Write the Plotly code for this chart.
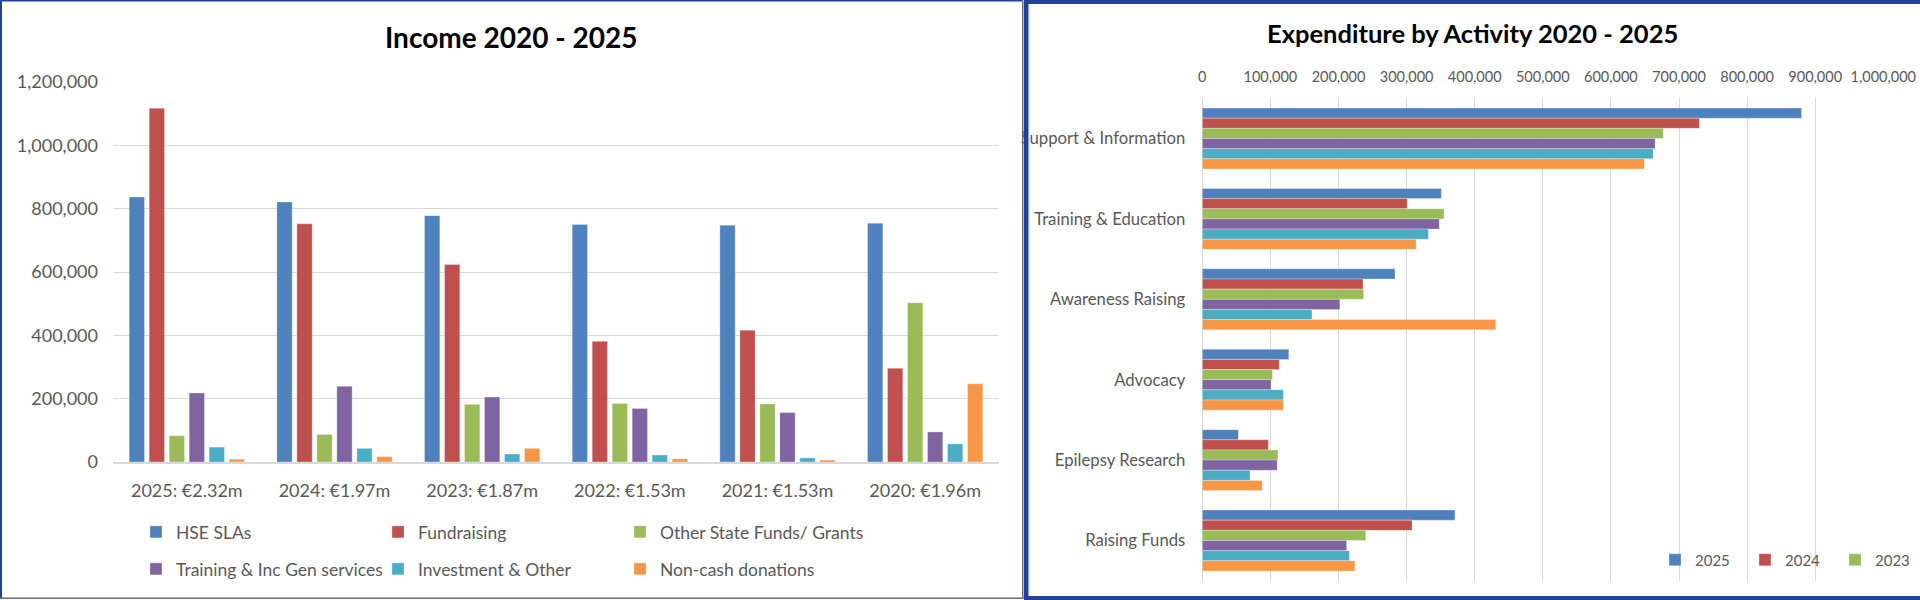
import plotly.graph_objects as go

# ---------------- Data ----------------
income_years = ["2025: €2.32m", "2024: €1.97m", "2023: €1.87m",
                "2022: €1.53m", "2021: €1.53m", "2020: €1.96m"]
income_series_names = ["HSE SLAs", "Fundraising", "Other State Funds/ Grants",
                       "Training & Inc Gen services", "Investment & Other", "Non-cash donations"]
hse_slas = [837000, 821000, 778000, 750000, 748000, 754000]
fundraising = [1117000, 752000, 624000, 381000, 416000, 296000]
other_state = [83000, 87000, 182000, 185000, 183000, 503000]
training_gen = [218000, 239000, 205000, 169000, 156000, 95000]
investment_other = [47000, 43000, 25000, 22000, 13000, 57000]
non_cash = [9000, 17000, 43000, 10000, 6000, 247000]
income_values = [hse_slas, fundraising, other_state, training_gen, investment_other, non_cash]

activities = ["Support & Information", "Training & Education", "Awareness Raising",
              "Advocacy", "Epilepsy Research", "Raising Funds"]
exp_years = ["2025", "2024", "2023", "2022", "2021", "2020"]
exp_2025 = [880000, 351000, 283000, 127000, 53000, 371000]
exp_2024 = [730000, 301000, 236000, 113000, 97000, 308000]
exp_2023 = [677000, 355000, 237000, 103000, 111000, 240000]
exp_2022 = [665000, 348000, 202000, 101000, 110000, 212000]
exp_2021 = [662000, 332000, 161000, 119000, 70000, 216000]
exp_2020 = [649000, 314000, 431000, 119000, 88000, 224000]
exp_values = [exp_2025, exp_2024, exp_2023, exp_2022, exp_2021, exp_2020]

colors = ["#4F81BD", "#C0504D", "#9BBB59", "#8064A2", "#4BACC6", "#F79646"]

# ---------------- Layout helpers ----------------
W, H = 1920, 600
FONT = "Lato"
GREY = "#595959"
GRID = "#D9D9D9"


def px_x(p):
    return p / W


def px_y(p):
    return 1 - p / H


fig = go.Figure()

# Income: grouped columns
n_inc = len(income_values)
slot_l = 0.1354
bar_l = 0.1036
for i, (name, vals) in enumerate(zip(income_series_names, income_values)):
    fig.add_trace(go.Bar(
        x=income_years, y=vals, name=name,
        marker=dict(color=colors[i], line=dict(color="rgba(255,255,255,0.5)", width=0.6)),
        width=bar_l,
        offset=-slot_l * n_inc / 2 + i * slot_l + (slot_l - bar_l) / 2,
        xaxis="x", yaxis="y",
        legend="legend" if i < 3 else "legend3",
        legendwidth=260 if i % 3 == 2 else None,
        hoverinfo="skip",
    ))

# Expenditure: grouped horizontal bars
n_exp = len(exp_values)
slot_r = 0.1263
for i, (yr, vals) in enumerate(zip(exp_years, exp_values)):
    fig.add_trace(go.Bar(
        y=activities, x=vals, name=yr, orientation="h",
        marker=dict(color=colors[i], line=dict(color="rgba(255,255,255,0.5)", width=0.6)),
        width=slot_r,
        offset=-slot_r * n_exp / 2 + i * slot_r,
        xaxis="x2", yaxis="y2",
        legend="legend2",
        showlegend=i < 3,
        hoverinfo="skip",
    ))

tick_font_l = dict(family=FONT, size=18, color=GREY)
tick_font_r = dict(family=FONT, size=14.5, color=GREY)
legend_font_l = dict(family=FONT, size=17.5, color=GREY)

fig.update_layout(
    width=W, height=H,
    margin=dict(l=0, r=0, t=0, b=0, autoexpand=False),
    paper_bgcolor="white", plot_bgcolor="white",
    barmode="overlay",
    font=dict(family=FONT, color=GREY),
    xaxis=dict(domain=[px_x(113), px_x(999)], anchor="y",
               tickfont=tick_font_l, showgrid=False,
               showline=True, linecolor=GRID, linewidth=1.5,
               ticks="", ticklabelstandoff=12, fixedrange=True),
    yaxis=dict(domain=[px_y(462), px_y(82)], anchor="x",
               range=[0, 1200000], dtick=200000, tickformat=",",
               tickfont=tick_font_l, showgrid=True, gridcolor=GRID, gridwidth=1,
               zeroline=False, showline=False, ticks="", ticklabelstandoff=14,
               fixedrange=True),
    xaxis2=dict(domain=[px_x(1202.3), px_x(1883.3)], anchor="y2", side="top",
                range=[0, 1000000], dtick=100000, tickformat=",",
                tickfont=tick_font_r, showgrid=True, gridcolor=GRID, gridwidth=1,
                zeroline=True, zerolinecolor=GRID, zerolinewidth=1,
                showline=False, ticks="", ticklabelstandoff=12, fixedrange=True),
    yaxis2=dict(domain=[px_y(580.7), px_y(98.3)], anchor="x2",
                autorange="reversed", tickfont=dict(family=FONT, size=16.7, color=GREY),
                showgrid=False, showline=False, ticks="", ticklabelstandoff=16,
                fixedrange=True),
    legend=dict(orientation="h", x=px_x(136), xanchor="left", y=px_y(532), yanchor="middle",
                font=legend_font_l,
                entrywidth=197, entrywidthmode="pixels", bgcolor="rgba(0,0,0,0)",
                traceorder="normal"),
    legend3=dict(orientation="h", x=px_x(136), xanchor="left", y=px_y(569), yanchor="middle",
                 font=legend_font_l,
                 entrywidth=197, entrywidthmode="pixels", bgcolor="rgba(0,0,0,0)",
                 traceorder="normal"),
    legend2=dict(orientation="h", x=px_x(1655), xanchor="left", y=px_y(560), yanchor="middle",
                 font=dict(family=FONT, size=15, color=GREY),
                 entrywidth=45, entrywidthmode="pixels", bgcolor="rgba(0,0,0,0)",
                 traceorder="normal"),
    annotations=[
        dict(text="<b>Income 2020 - 2025</b>", x=px_x(511), y=px_y(37),
             xref="paper", yref="paper", xanchor="center", yanchor="middle",
             showarrow=False, font=dict(family=FONT, size=28, color="#000000")),
        dict(text="<b>Expenditure by Activity 2020 - 2025</b>", x=px_x(1472), y=px_y(33),
             xref="paper", yref="paper", xanchor="center", yanchor="middle",
             showarrow=False, font=dict(family=FONT, size=25.5, color="#000000")),
    ],
)

# Panel frames
BLUE = "#23409A"
frame_shapes = [
    # left panel: thin blue top / left, grey right / bottom
    dict(x0=0, x1=1023, y0=0, y1=1.5, color=BLUE),
    dict(x0=0, x1=2, y0=0, y1=599, color=BLUE),
    dict(x0=1022, x1=1023.5, y0=0, y1=599, color="#6E6E6E"),
    dict(x0=0, x1=1023.5, y0=597.5, y1=599, color="#6E6E6E"),
    # right panel: thick blue
    dict(x0=1024, x1=1028, y0=0, y1=600, color=BLUE),
    dict(x0=1028, x1=1029.2, y0=4, y1=596, color="#8FA3D6"),
    dict(x0=1024, x1=1920, y0=0, y1=4, color=BLUE),
    dict(x0=1024, x1=1920, y0=596, y1=600, color=BLUE),
]
for s in frame_shapes:
    fig.add_shape(type="rect", xref="paper", yref="paper",
                  x0=px_x(s["x0"]), x1=px_x(s["x1"]),
                  y0=px_y(s["y1"]), y1=px_y(s["y0"]),
                  fillcolor=s["color"], line=dict(width=0), layer="above")

fig.write_html("out.html", config={"displayModeBar": False})
